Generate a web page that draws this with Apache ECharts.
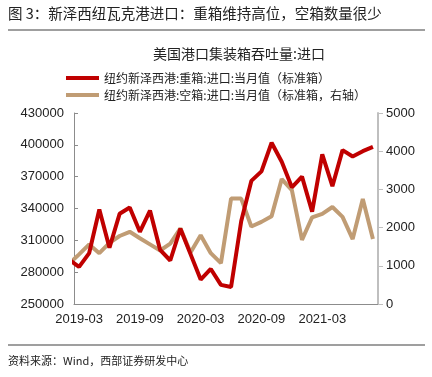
<!DOCTYPE html>
<html>
<head>
<meta charset="utf-8">
<script src="https://cdn.jsdelivr.net/npm/echarts@6/dist/echarts.min.js"></script>
<style>
html, body { margin: 0; padding: 0; background: #fff; }
#chart { width: 432px; height: 377px; }
</style>
</head>
<body>
<div id="chart"></div>
<script>
// 月份（2019-02 只用于画出左侧被截断的线段）
var months = ['2019-02','2019-03','2019-04','2019-05','2019-06','2019-07','2019-08','2019-09','2019-10','2019-11','2019-12',
  '2020-01','2020-02','2020-03','2020-04','2020-05','2020-06','2020-07','2020-08','2020-09','2020-10','2020-11','2020-12',
  '2021-01','2021-02','2021-03','2021-04','2021-05','2021-06','2021-07','2021-08'];

// 重箱（左轴）
var heavy = [292000, 285000, 298000, 339000, 303000, 335000, 341000, 318000, 338000, 301000, 291000,
  321000, 297000, 273000, 283000, 268000, 266000, 328000, 366000, 375000, 402000, 384000, 360000,
  370000, 337000, 391000, 361000, 395000, 389000, 394000, 398000];

// 空箱（右轴）
var empty = [1050, 1300, 1560, 1330, 1600, 1780, 1890, 1720, 1560, 1400, 1580,
  1980, 1350, 1800, 1330, 1070, 2760, 2760, 2030, 2150, 2300, 3270, 2980,
  1680, 2270, 2360, 2540, 2280, 1700, 2750, 1700];

var heavyName = '纽约新泽西港:重箱:进口:当月值（标准箱）';
var emptyName = '纽约新泽西港:空箱:进口:当月值（标准箱，右轴）';

var cjk = '"Noto Sans CJK SC", sans-serif';
var num = '"Liberation Sans", Arial, sans-serif';

function showMonth(idx, val) {
  return /-(03|09)$/.test(val);
}

var chart = echarts.init(document.getElementById('chart'));
chart.setOption({
  animation: false,
  textStyle: { fontFamily: num },
  title: {
    text: '美国港口集装箱吞吐量:进口',
    left: 234,
    top: 42,
    textAlign: 'center',
    textStyle: { fontFamily: cjk, fontSize: 14, fontWeight: 'normal', color: '#222' }
  },
  legend: {
    orient: 'vertical',
    left: 61,
    top: 67,
    itemWidth: 33,
    itemHeight: 4,
    itemGap: 5,
    icon: 'rect',
    textStyle: { fontFamily: cjk, fontSize: 12, color: '#222' },
    data: [heavyName, emptyName]
  },
  grid: { left: 74, right: 54, top: 113, bottom: 73 },
  xAxis: {
    type: 'category',
    data: months,
    min: 1,
    boundaryGap: true,
    axisLine: { lineStyle: { color: '#8c8c8c', width: 1 } },
    axisTick: { inside: true, length: 4, interval: showMonth, lineStyle: { color: '#8c8c8c' } },
    axisLabel: { interval: showMonth, fontSize: 13, color: '#222', margin: 9, fontFamily: num },
    splitLine: { show: false }
  },
  yAxis: [
    {
      type: 'value',
      min: 250000,
      max: 430000,
      interval: 30000,
      axisLine: { show: true, lineStyle: { color: '#8c8c8c', width: 1 } },
      axisTick: { show: true, inside: true, length: 4, lineStyle: { color: '#8c8c8c' } },
      axisLabel: { fontSize: 13, color: '#222', margin: 10, fontFamily: num, formatter: function (v) { return String(v); } },
      splitLine: { show: false }
    },
    {
      type: 'value',
      min: 0,
      max: 5000,
      interval: 1000,
      position: 'right',
      axisLine: { show: true, lineStyle: { color: '#bfbfbf', width: 2 } },
      axisTick: { show: true, length: 5, lineStyle: { color: '#bfbfbf' } },
      axisLabel: { fontSize: 13, color: '#222', margin: 8, fontFamily: num, formatter: function (v) { return String(v); } },
      splitLine: { show: false }
    }
  ],
  series: [
    {
      name: heavyName,
      type: 'line',
      yAxisIndex: 0,
      data: heavy,
      symbol: 'none',
      color: '#c00000',
      lineStyle: { width: 4, color: '#c00000' },
      z: 3
    },
    {
      name: emptyName,
      type: 'line',
      yAxisIndex: 1,
      data: empty,
      symbol: 'none',
      color: '#c09c74',
      lineStyle: { width: 4, color: '#c09c74' },
      z: 2
    }
  ],
  graphic: [
    {
      type: 'text', left: 8, top: 6,
      style: { text: '图 3：新泽西纽瓦克港进口：重箱维持高位，空箱数量很少', fontFamily: cjk, fontSize: 14.5, fill: '#222' }
    },
    {
      type: 'line', shape: { x1: 8, y1: 30, x2: 425, y2: 30 },
      style: { stroke: '#7f7f7f', lineWidth: 1.5 }
    },
    {
      type: 'line', shape: { x1: 8, y1: 345, x2: 425, y2: 345 },
      style: { stroke: '#7f7f7f', lineWidth: 1.5 }
    },
    {
      type: 'text', left: 8, top: 355,
      style: { text: '资料来源：Wind，西部证券研发中心', fontFamily: cjk, fontSize: 11, fill: '#222' }
    }
  ]
});
</script>
</body>
</html>
